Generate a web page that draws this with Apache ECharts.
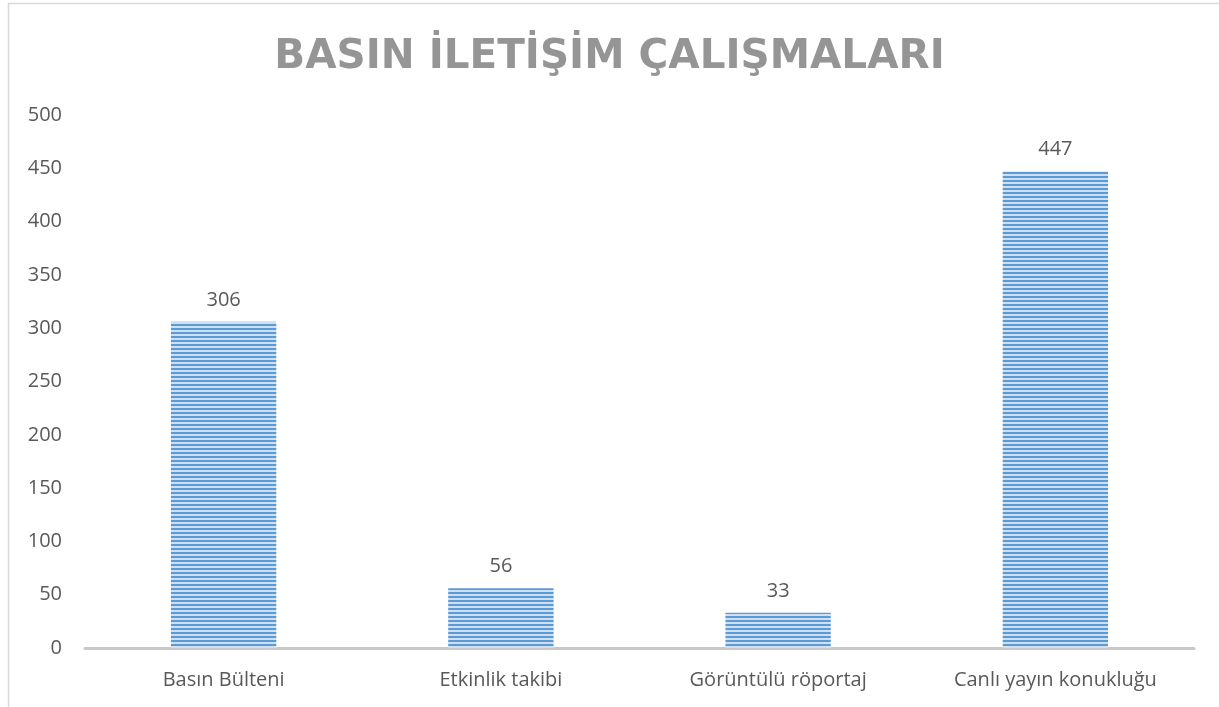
<!DOCTYPE html>
<html>
<head>
<meta charset="utf-8">
<script src="https://cdn.jsdelivr.net/npm/echarts@6/dist/echarts.min.js"></script>
<style>html,body{margin:0;padding:0;background:#fff;}#c{width:1219px;height:707px;}</style>
</head>
<body>
<div id="c"></div>
<script>
const titleText = 'BASIN İLETİŞİM ÇALIŞMALARI';
const categories = ['Basın Bülteni', 'Etkinlik takibi', 'Görüntülü röportaj', 'Canlı yayın konukluğu'];
const values = [306, 56, 33, 447];
const yTicks = [0, 50, 100, 150, 200, 250, 300, 350, 400, 450, 500];

function stripePattern() {
  const c = document.createElement('canvas');
  c.width = 8; c.height = 4;
  const g = c.getContext('2d');
  g.fillStyle = '#cfe0f2';
  g.fillRect(0, 0, 8, 4);
  g.fillStyle = '#5b9bd5';
  g.fillRect(0, 0, 8, 2);
  return c;
}

const chart = echarts.init(document.getElementById('c'), null, {renderer: 'canvas'});
chart.setOption({
  backgroundColor: '#ffffff',
  animation: false,
  title: {
    text: titleText,
    left: 'center',
    top: 32,
    textStyle: {fontFamily: 'DejaVu Sans', fontWeight: 'bold', fontSize: 40.5, color: '#959595'}
  },
  graphic: [{
    type: 'rect',
    shape: {x: 8.5, y: 3.5, width: 1300, height: 800},
    style: {fill: null, stroke: '#d9d9d9', lineWidth: 1.5},
    silent: true,
    z: -1
  }],
  grid: {left: 85, right: 25, top: 115, bottom: 59},
  xAxis: {
    type: 'category',
    data: categories,
    axisLine: {lineStyle: {color: '#c8c8c8', width: 3}},
    axisTick: {show: false},
    axisLabel: {color: '#595959', fontSize: 20, fontFamily: 'Open Sans', margin: 22}
  },
  yAxis: {
    type: 'value',
    min: yTicks[0],
    max: yTicks[yTicks.length - 1],
    interval: 50,
    splitLine: {show: false},
    axisLine: {show: false},
    axisTick: {show: false},
    axisLabel: {color: '#595959', fontSize: 20, fontFamily: 'Open Sans', margin: 23}
  },
  series: [{
    type: 'bar',
    data: values,
    barWidth: '38%',
    itemStyle: {color: {image: stripePattern(), repeat: 'repeat'}},
    label: {show: true, position: 'top', distance: 12, color: '#595959', fontSize: 20, fontFamily: 'Open Sans'}
  }]
});
</script>
</body>
</html>
